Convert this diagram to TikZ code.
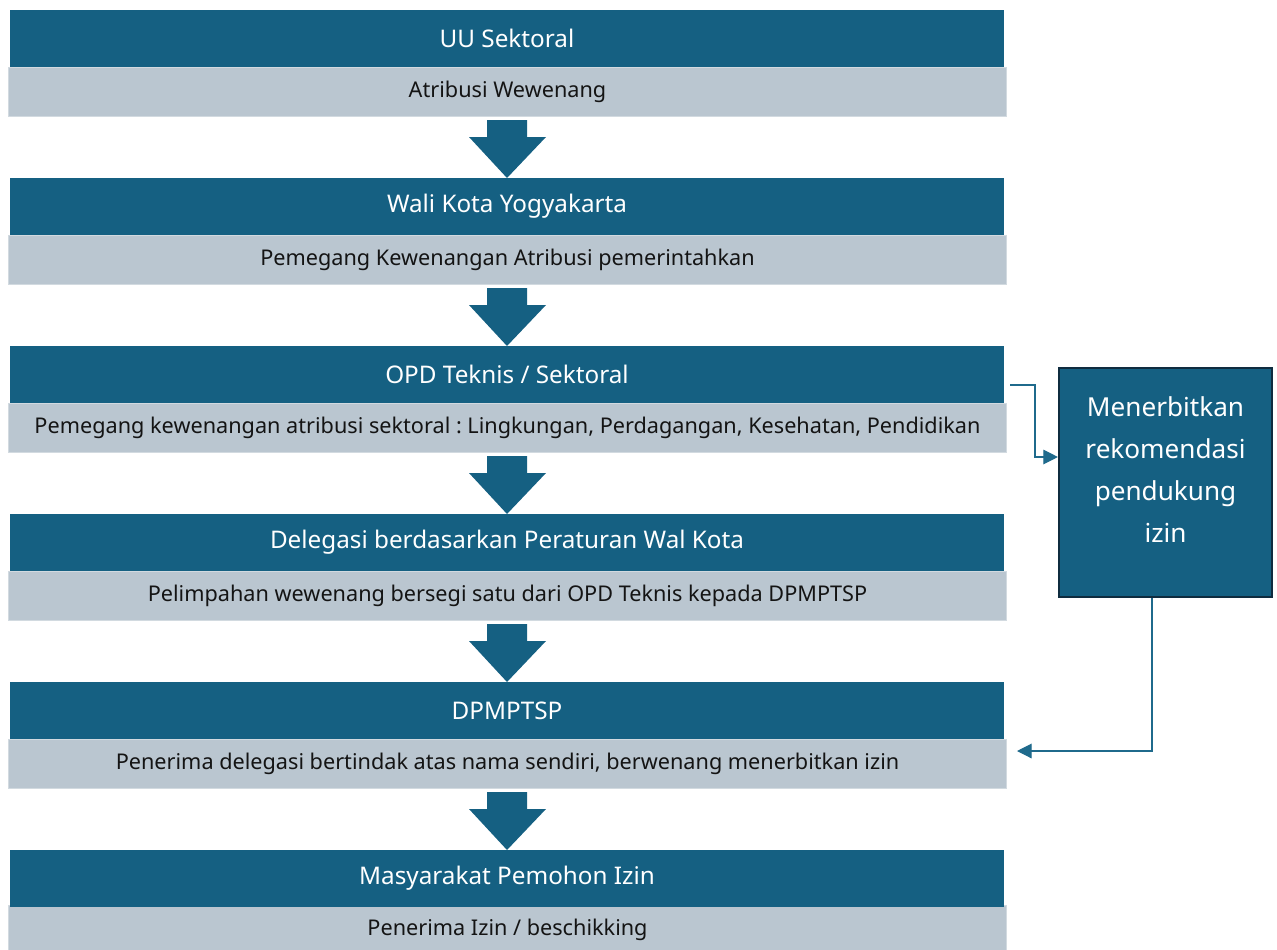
\documentclass[tikz,border=0pt]{standalone}
\usepackage{fontspec}
\setmainfont{Noto Sans}
\usetikzlibrary{arrows.meta}
\definecolor{dk}{HTML}{156082}
\definecolor{lt}{HTML}{BAC6D0}
\definecolor{ltb}{HTML}{D2DAE0}
\definecolor{bx}{HTML}{0F2C3F}
\definecolor{txt}{HTML}{141414}
\definecolor{ln}{HTML}{1F6A8C}
\frenchspacing
\begin{document}
\begin{tikzpicture}[x=0.75pt,y=-0.75pt,
  head/.style={fill=dk, minimum width=745.5pt, minimum height=42.75pt, inner sep=0pt, text=white, font=\fontsize{18.2}{22}\selectfont},
  band/.style={fill=lt, draw=ltb, line width=1pt, minimum width=748.5pt, minimum height=37pt, inner sep=0pt, text=txt, font=\fontsize{16.25}{19}\selectfont},
  bigarrow/.style={fill=dk},
  conn/.style={draw=ln, line width=0.9pt, -{Triangle[length=11pt,width=11pt]}},
  sidebox/.style={fill=dk, draw=bx, line width=1.6pt, minimum width=159.75pt, minimum height=171.75pt, inner sep=0pt},
  sidetext/.style={text=white, align=center, font=\fontsize{19.6}{31.5}\selectfont}
]
\fill[white] (0,0) rectangle (1277,949);
\path[use as bounding box] (0,0) rectangle (1277,949);

\node[band] (b1) at (507.5,92) {Atribusi Wewenang};
\node[head] (h1) at (507,38.5) {UU Sektoral};
\node[band] (b2) at (507.5,260) {Pemegang Kewenangan Atribusi pemerintahkan};
\node[head] (h2) at (507,206.5) {Wali Kota Yogyakarta};
\node[band] (b3) at (507.5,428) {Pemegang kewenangan atribusi sektoral : Lingkungan, Perdagangan, Kesehatan, Pendidikan};
\node[head] (h3) at (507,374.5) {OPD Teknis / Sektoral};
\node[band] (b4) at (507.5,596) {Pelimpahan wewenang bersegi satu dari OPD Teknis kepada DPMPTSP};
\node[head] (h4) at (507,542.5) {Delegasi berdasarkan Peraturan Wal Kota};
\node[band] (b5) at (507.5,764) {Penerima delegasi bertindak atas nama sendiri, berwenang menerbitkan izin};
\node[head] (h5) at (507,710.5) {DPMPTSP};
\node[band] (b6) at (507.5,930) {Penerima Izin / beschikking};
\node[head] (h6) at (507,878.5) {Masyarakat Pemohon Izin};

\foreach \o in {0,168,336,504,672}{
  \fill[bigarrow] (487,{120+\o}) -- (527,{120+\o}) -- (527,{137+\o}) -- (546,{137+\o})
    -- (507,{178+\o}) -- (469,{137+\o}) -- (487,{137+\o}) -- cycle;
}

\node[sidebox] (rbox) at (1165.5,482.5) {};
\node[sidetext] (rtext) at (1165.5,470) {Menerbitkan\\rekomendasi\\pendukung\\izin};

\coordinate (c1) at (1010,385);
\coordinate (c1b) at (1035,385);
\draw[conn] (c1) -- (c1b) |- (rbox.west |- 0,457);

\coordinate (c2) at (1152,751);
\coordinate (t2) at (1017,751);
\draw[conn] (rbox.south -| c2) -- (c2) -- (t2);
\end{tikzpicture}
\end{document}
